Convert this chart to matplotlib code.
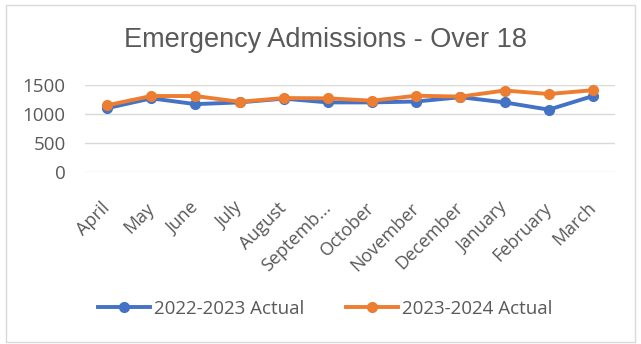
import matplotlib
matplotlib.use("Agg")
import matplotlib.pyplot as plt
from matplotlib.patches import Rectangle

# Dados (valores aproximados)
months = ["April", "May", "June", "July", "August", "Septemb...", "October",
          "November", "December", "January", "February", "March"]
actual_2223 = [1100, 1270, 1170, 1200, 1265, 1200, 1200, 1215, 1290, 1200, 1075, 1310]
actual_2324 = [1150, 1310, 1310, 1210, 1275, 1270, 1230, 1315, 1300, 1405, 1345, 1410]
y_ticks = [0, 500, 1000, 1500]

blue = "#4472C4"
orange = "#ED7D31"
grey_text = "#595959"

plt.rcParams["font.family"] = ["Open Sans", "DejaVu Sans"]

fig = plt.figure(figsize=(6.41, 3.44), dpi=100)
ax = fig.add_axes([85 / 641, 1 - 172 / 344, 530 / 641, 87 / 344])

# Borda externa do gráfico
fig.patches.append(Rectangle((6 / 641, 2 / 344), 629 / 641, 337 / 344,
                             transform=fig.transFigure, fill=False,
                             edgecolor="#D9D9D9", linewidth=1))

x = range(len(months))
ax.plot(x, actual_2223, color=blue, linewidth=2.8, marker="o", markersize=7,
        label="2022-2023 Actual", clip_on=False, zorder=3)
ax.plot(x, actual_2324, color=orange, linewidth=2.8, marker="o", markersize=7,
        label="2023-2024 Actual", clip_on=False, zorder=4)

ax.set_xlim(-0.5, len(months) - 0.5)
ax.set_ylim(0, 1500)
ax.set_yticks(y_ticks)
ax.grid(axis="y", color="#D9D9D9", linewidth=1)
ax.set_axisbelow(True)
for s in ax.spines.values():
    s.set_visible(False)

ax.set_xticks(list(x))
ax.set_xticklabels(months, rotation=45, ha="right", va="center",
                   rotation_mode="anchor", fontsize=13, color=grey_text)
ax.tick_params(axis="x", length=0, pad=24)
ax.tick_params(axis="y", length=0, pad=14, labelsize=13.5, labelcolor=grey_text)

fig.text(325 / 641, 1 - 40 / 344, "Emergency Admissions - Over 18",
         ha="center", va="center", fontsize=19.5, color=grey_text,
         family="Liberation Sans")

leg = fig.legend(loc="center", bbox_to_anchor=(325 / 641, 1 - 309 / 344),
                 ncol=2, frameon=False, fontsize=13.5, handlelength=2.8,
                 handletextpad=0.2, columnspacing=2.2)
for t in leg.get_texts():
    t.set_color(grey_text)

fig.savefig("out.png", dpi=100)
